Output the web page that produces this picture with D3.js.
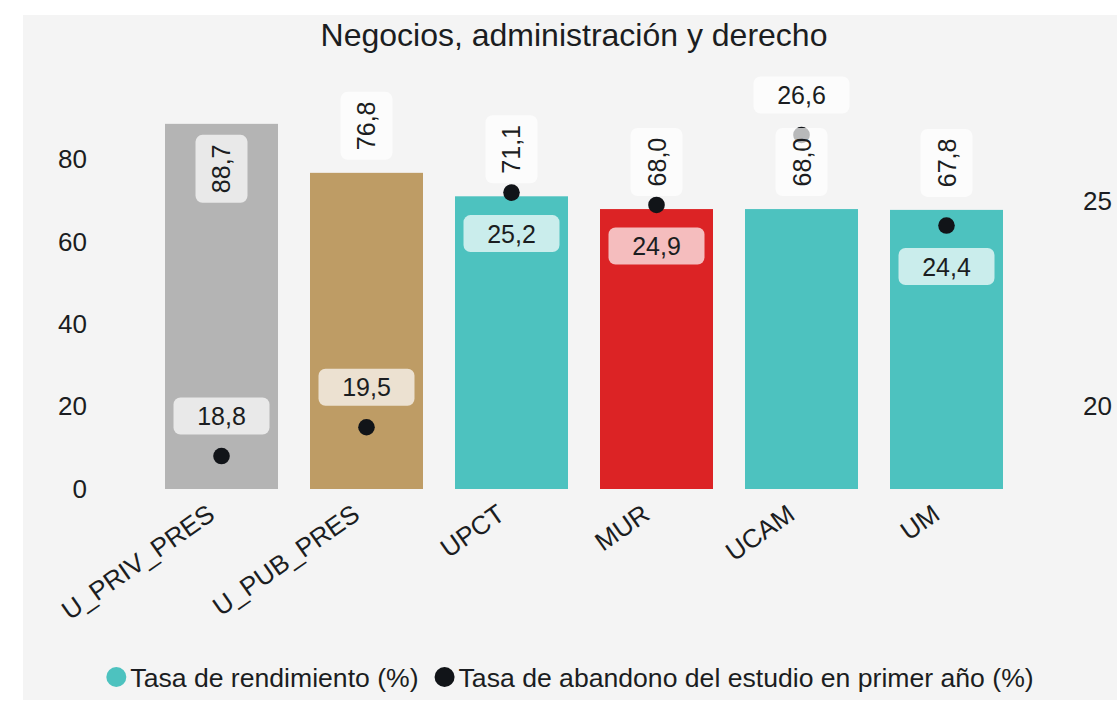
<!DOCTYPE html>
<html>
<head>
<meta charset="utf-8">
<script src="https://cdn.jsdelivr.net/npm/d3@7"></script>
<style>
    body { margin: 0; background: #fff; }
    text { font-family: "Liberation Sans", Arial, sans-serif; fill: #1b1d21; }
</style>
</head>
<body>
<div id="chart"></div>
<script>
var title = "Negocios, administración y derecho";
var categories = ["U_PRIV_PRES", "U_PUB_PRES", "UPCT", "MUR", "UCAM", "UM"];
var rendimiento = [88.7, 76.8, 71.1, 68.0, 68.0, 67.8];
var abandono = [18.8, 19.5, 25.2, 24.9, 26.6, 24.4];
var barColors = ["#b4b4b4", "#be9c65", "#4dc2bf", "#dc2325", "#4dc2bf", "#4dc2bf"];
var leftTicks = [0, 20, 40, 60, 80];
var rightTicks = [20, 25];
var legendLabels = ["Tasa de rendimiento (%)", "Tasa de abandono del estudio en primer año (%)"];
var legendColors = ["#4dc2bf", "#111418"];

var width = 1117, height = 701;

var locale = d3.formatLocale({decimal: ",", thousands: ".", grouping: [3], currency: ["", "€"]});
var fmt = locale.format(".1f");

var data = categories.map(function(c, i) {
    return {cat: c, rend: rendimiento[i], aband: abandono[i], color: barColors[i]};
});

var svg = d3.select("#chart").append("svg")
    .attr("width", width)
    .attr("height", height);

// panel background
svg.append("rect")
    .attr("x", 23).attr("y", 15)
    .attr("width", 1110).attr("height", 685)
    .attr("fill", "#f4f4f4");

var x = d3.scaleBand()
    .domain(categories)
    .range([92.5, 1075.5])
    .paddingInner(0.2207)
    .paddingOuter(0.5);

var yL = d3.scaleLinear().domain([0, 90]).range([489, 118.5]);
var yR = d3.scaleLinear().domain([18, 27]).range([489, 118.5]);

svg.append("text")
    .attr("x", 574).attr("y", 46)
    .attr("text-anchor", "middle")
    .style("font-size", "32px")
    .text(title);

// axes
var gl = svg.append("g")
    .attr("transform", "translate(87,0)")
    .style("font-size", "26px")
    .call(d3.axisLeft(yL).tickValues(leftTicks).tickSize(0).tickPadding(0));
gl.select(".domain").remove();

var gr = svg.append("g")
    .attr("transform", "translate(1083,0)")
    .style("font-size", "26px")
    .call(d3.axisRight(yR).tickValues(rightTicks).tickSize(0).tickPadding(0));
gr.select(".domain").remove();

var gx = svg.append("g")
    .attr("transform", "translate(0,489)")
    .style("font-size", "26px")
    .call(d3.axisBottom(x).tickSize(0));
gx.select(".domain").remove();
gx.selectAll(".tick text")
    .attr("x", 0).attr("y", 0).attr("dy", 0)
    .attr("text-anchor", "end")
    .attr("transform", "translate(-5,29) rotate(-35)");

svg.selectAll("text").attr("fill", "#1b1d21");

// bars
svg.append("g")
    .selectAll("rect")
    .data(data)
    .enter().append("rect")
    .attr("x", function(d) { return x(d.cat); })
    .attr("y", function(d) { return yL(d.rend); })
    .attr("width", x.bandwidth())
    .attr("height", function(d) { return yL(0) - yL(d.rend); })
    .attr("fill", function(d) { return d.color; });

// dots
svg.append("g")
    .selectAll("circle")
    .data(data)
    .enter().append("circle")
    .attr("cx", function(d) { return x(d.cat) + x.bandwidth() / 2; })
    .attr("cy", function(d) { return yR(d.aband); })
    .attr("r", 8.3)
    .attr("fill", "#111418");

// bar value labels (vertical)
var barLab = svg.append("g")
    .selectAll("g")
    .data(data)
    .enter().append("g")
    .attr("transform", function(d) {
        var top = yL(d.rend);
        var cy = top - 13 - 34;
        if (cy - 34 < 60) cy = top + 11 + 34; // no room above -> inside
        return "translate(" + (x(d.cat) + x.bandwidth() / 2) + "," + cy + ") rotate(-90)";
    });
barLab.append("rect")
    .attr("x", -34).attr("y", -26)
    .attr("width", 68).attr("height", 52)
    .attr("rx", 7)
    .attr("fill", "rgba(255,255,255,0.7)");
barLab.append("text")
    .attr("text-anchor", "middle")
    .attr("dy", "0.36em")
    .style("font-size", "25px")
    .text(function(d) { return fmt(d.rend); });

// dot value labels
var dotLab = svg.append("g")
    .selectAll("g")
    .data(data)
    .enter().append("g")
    .attr("transform", function(d) {
        var dy = yR(d.aband);
        var below = Math.abs(dy - yL(d.rend)) < 40;
        var cy = below ? dy + 41 : dy - 40;
        return "translate(" + (x(d.cat) + x.bandwidth() / 2) + "," + cy + ")";
    });
dotLab.append("rect")
    .attr("x", -48).attr("y", -18.5)
    .attr("width", 96).attr("height", 37)
    .attr("rx", 7)
    .attr("fill", "rgba(255,255,255,0.7)");
dotLab.append("text")
    .attr("text-anchor", "middle")
    .attr("dy", "0.36em")
    .style("font-size", "25px")
    .text(function(d) { return fmt(d.aband); });

// legend
var leg = svg.append("g").attr("transform", "translate(0,677)");
var items = leg.selectAll("g")
    .data(legendLabels)
    .enter().append("g");
items.append("circle")
    .attr("r", 10)
    .attr("cx", 10)
    .attr("fill", function(d, i) { return legendColors[i]; });
items.append("text")
    .attr("x", 24)
    .attr("dy", "0.36em")
    .style("font-size", "26.6px")
    .text(function(d) { return d; });

var offs = [], cur = 0;
items.each(function() {
    offs.push(cur);
    cur += 24 + d3.select(this).select("text").node().getComputedTextLength() + 16;
});
var total = cur - 16;
var start = 570 - total / 2;
items.attr("transform", function(d, i) { return "translate(" + (start + offs[i]) + ",0)"; });
</script>
</body>
</html>
